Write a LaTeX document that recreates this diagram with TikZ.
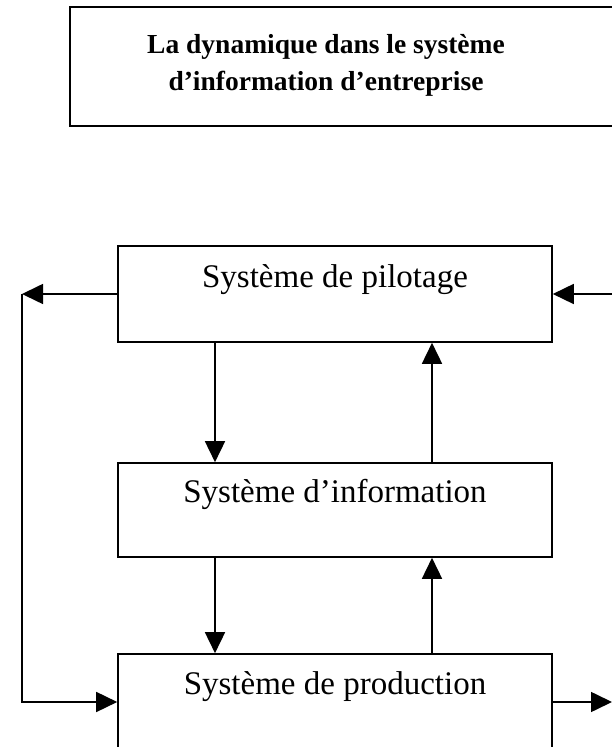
\documentclass[tikz,border=0pt]{standalone}
\usepackage{fontspec}
\setmainfont{Liberation Serif}
\usetikzlibrary{arrows.meta,positioning}

\tikzset{
	sysbox/.style={draw,line width=1.6pt,minimum width=434pt,inner sep=0pt},
	systxt/.style={inner sep=0pt,anchor=base,font=\fontsize{33}{38}\selectfont},
	fleche/.style={line width=1.6pt,-{Triangle[length=21pt,width=20pt]}},
}

\begin{document}
\begin{tikzpicture}[x=1pt,y=1pt]
	\useasboundingbox (0,0) rectangle (612,747);
	
	% Title frame (runs past the right edge)
	\draw[line width=1.6pt] (70,740) rectangle (660,621);
	\node[align=center,inner sep=0pt,font=\bfseries\fontsize{27.5}{37}\selectfont] (titre) at (326,682)
		{La dynamique dans le système\\d’information d’entreprise};
	
	% The three systems
	\node[sysbox,minimum height=96pt] (pilot) at (335,453) {};
	\node[sysbox,minimum height=94pt] (info) at (335,237) {};
	\node[sysbox,minimum height=96pt] (prod) at (335,45) {};
	\node[systxt] (pilottxt) at ([yshift=-42pt]pilot.north) {Système de pilotage};
	\node[systxt] (infotxt) at ([yshift=-40pt]info.north) {Système d’information};
	\node[systxt] (prodtxt) at ([yshift=-41pt]prod.north) {Système de production};
	
	% Vertical links
	\coordinate (xbas) at (215,0);
	\coordinate (xhaut) at (432,0);
	\draw[fleche] (xbas |- pilot.south) -- (xbas |- info.north);
	\draw[fleche] (xhaut |- info.north) -- (xhaut |- pilot.south);
	\draw[fleche] (xbas |- info.south) -- (xbas |- prod.north);
	\draw[fleche] (xhaut |- prod.north) -- (xhaut |- info.south);
	
	% Outer loop on the left
	\coordinate (gh) at (22,453);
	\coordinate (gb) at (22,45);
	\draw[fleche] (pilot.west) -- (gh);
	\draw[fleche] (gh) -- (gb) -- (prod.west);
	
	% Side links on the right
	\coordinate (dh) at (630,453);
	\coordinate (db) at (612,45);
	\draw[fleche] (dh) -- (pilot.east);
	\draw[fleche] (prod.east) -- (db);
\end{tikzpicture}
\end{document}
